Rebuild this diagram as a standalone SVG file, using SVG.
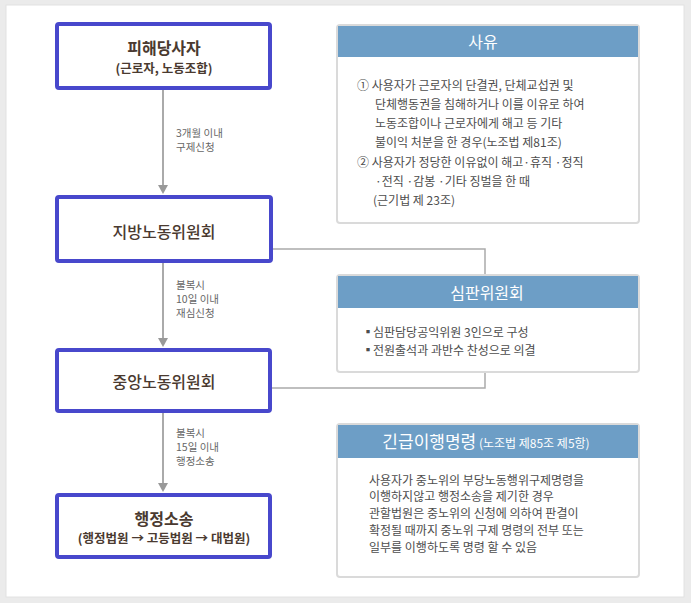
<svg xmlns="http://www.w3.org/2000/svg" width="691" height="603" viewBox="0 0 691 603">
<defs>
<style>
.node{fill:#fff;stroke:#4848cc;stroke-width:4}
.nt{font-family:"Noto Sans CJK KR","Noto Sans",sans-serif;fill:#4a3a30;text-anchor:middle}
.big{font-size:16px;font-weight:bold}
.mid{font-size:16px;font-weight:500}
.sub{font-size:12.5px;font-weight:bold}
.lbl{font-family:"Noto Sans CJK KR","Noto Sans",sans-serif;font-size:10.5px;fill:#666}
.conn{stroke:#aaa;stroke-width:2;fill:none}
.elb{stroke:#aaa;stroke-width:1.5;fill:none}
.panel{fill:#fff;stroke:#dadada;stroke-width:2}
.hdr{fill:#6d9ec6}
.ht{font-family:"Noto Sans CJK KR","Noto Sans",sans-serif;fill:#fff;text-anchor:middle;font-size:16px}
.pt{font-family:"Noto Sans CJK KR","Noto Sans",sans-serif;fill:#4d4d4d;font-size:12px}
</style>
</defs>
<rect x="0" y="0" width="691" height="603" fill="#ebebeb"/>
<rect x="6" y="5" width="678" height="592" fill="#fff" stroke="#e2e2e2" stroke-width="1"/>

<g id="connectors">
<line class="conn" x1="163" y1="90" x2="163" y2="185"/>
<path d="M158,185 L168,185 L163,194 Z" fill="#999"/>
<line class="conn" x1="163" y1="263" x2="163" y2="338"/>
<path d="M158,338 L168,338 L163,347 Z" fill="#999"/>
<line class="conn" x1="163" y1="413" x2="163" y2="483"/>
<path d="M158,483 L168,483 L163,492 Z" fill="#999"/>
<polyline class="elb" points="272,249 485,249 485,275"/>
<polyline class="elb" points="272,388 485,388 485,372"/>
<text class="lbl" x="176" y="137">3개월 이내</text>
<text class="lbl" x="176" y="151">구제신청</text>
<text class="lbl" x="176" y="289">불복시</text>
<text class="lbl" x="176" y="303">10일 이내</text>
<text class="lbl" x="176" y="317">재심신청</text>
<text class="lbl" x="176" y="437">불복시</text>
<text class="lbl" x="176" y="451">15일 이내</text>
<text class="lbl" x="176" y="465">행정소송</text>
</g>

<g id="node-victim">
<rect class="node" x="57" y="24" width="213" height="64" rx="2"/>
<text class="nt big" x="164" y="54">피해당사자</text>
<text class="nt sub" x="164" y="73">(근로자, 노동조합)</text>
</g>
<g id="node-local">
<rect class="node" x="57" y="197" width="214" height="64" rx="2"/>
<text class="nt mid" x="164" y="238">지방노동위원회</text>
</g>
<g id="node-central">
<rect class="node" x="57" y="350" width="213" height="61" rx="2"/>
<text class="nt mid" x="164" y="388">중앙노동위원회</text>
</g>
<g id="node-lawsuit">
<rect class="node" x="57" y="495" width="213" height="62" rx="2"/>
<text class="nt big" x="164" y="525">행정소송</text>
<text class="nt sub" x="164" y="543">(행정법원 → 고등법원 → 대법원)</text>
</g>

<g id="panel-reason">
<rect class="panel" x="337" y="25" width="302" height="198" rx="3"/>
<rect class="hdr" x="338" y="26" width="300" height="31"/>
<text class="ht" x="483" y="48">사유</text>
<text class="pt" x="357" y="89.5">① 사용자가 근로자의 단결권, 단체교섭권 및</text>
<text class="pt" x="375" y="108.5">단체행동권을 침해하거나 이를 이유로 하여</text>
<text class="pt" x="375" y="127.5">노동조합이나 근로자에게 해고 등 기타</text>
<text class="pt" x="375" y="146.5">불이익 처분을 한 경우(노조법 제81조)</text>
<text class="pt" x="357" y="166.5">② 사용자가 정당한 이유없이 해고·휴직 ·정직</text>
<text class="pt" x="375" y="185.5">·전직 ·감봉 ·기타 징벌을 한 때</text>
<text class="pt" x="373" y="204.5">(근기법 제 23조)</text>
</g>

<g id="panel-tribunal">
<rect class="panel" x="337" y="275" width="302" height="97" rx="3"/>
<rect class="hdr" x="338" y="276" width="300" height="32"/>
<text class="ht" x="487" y="299">심판위원회</text>
<text class="pt" x="362" y="336.5" font-size="9">▪</text>
<text class="pt" x="373" y="336.5">심판담당공익위원 3인으로 구성</text>
<text class="pt" x="362" y="354.5" font-size="9">▪</text>
<text class="pt" x="373" y="354.5">전원출석과 과반수 찬성으로 의결</text>
</g>

<g id="panel-order">
<rect class="panel" x="337" y="424" width="302" height="153" rx="3"/>
<rect class="hdr" x="338" y="425" width="300" height="33"/>
<text class="ht" x="486" y="448"><tspan font-size="17">긴급이행명령</tspan><tspan font-size="12"> (노조법 제85조 제5항)</tspan></text>
<text class="pt" x="369" y="484.5">사용자가 중노위의 부당노동행위구제명령을</text>
<text class="pt" x="369" y="501">이행하지않고 행정소송을 제기한 경우</text>
<text class="pt" x="369" y="517.5">관할법원은 중노위의 신청에 의하여 판결이</text>
<text class="pt" x="369" y="534.5">확정될 때까지 중노위 구제 명령의 전부 또는</text>
<text class="pt" x="369" y="551.5">일부를 이행하도록 명령 할 수 있음</text>
</g>
</svg>
